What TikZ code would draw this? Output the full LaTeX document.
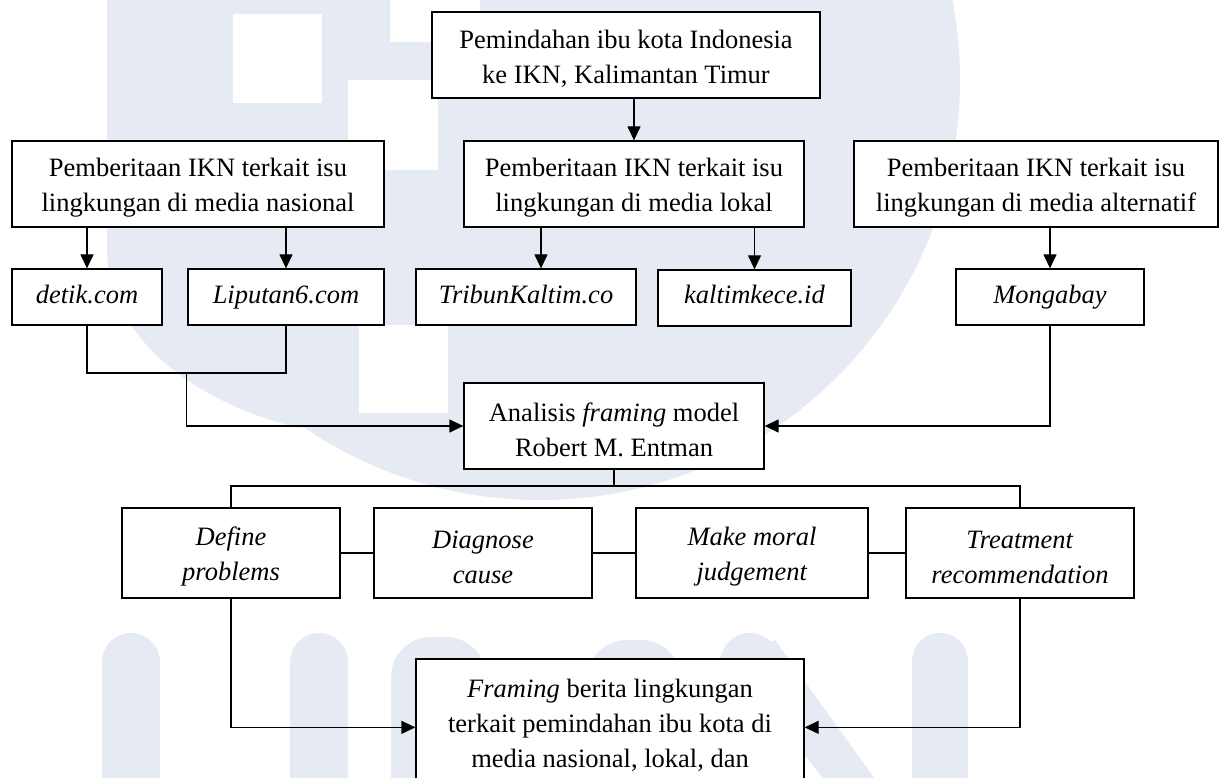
\documentclass[tikz,border=0pt]{standalone}
\usepackage{fontspec}
\setmainfont{Liberation Serif}
\usetikzlibrary{arrows.meta,calc}
\definecolor{wm}{RGB}{230,234,242}
\newcommand{\firstst}{\rule{0pt}{26pt}}
\begin{document}
\begin{tikzpicture}[x=1pt,y=-1pt,line width=1.3pt,
  box/.style={draw,fill=white,inner sep=0pt,align=center,font=\fontsize{26.5}{35}\selectfont},
  oneline/.style={text height=18pt,text depth=6pt},
  arr/.style={-{Triangle[length=14pt,width=13pt]}}]
\useasboundingbox (0,0) rectangle (1227,778);
\clip (0,0) rectangle (1227,778);
\fill[white] (0,0) rectangle (1227,778);
% watermark
\begin{scope}[wm]
\fill (540,80) circle[radius=420pt];
\fill (107,0) rectangle (540,250);
\fill (107,248) .. controls (107,340) and (200,405) .. (300,428) -- (300,248) -- cycle;
\fill[white] (233,14) rectangle (322,103);
\fill[white] (390,0) rectangle (480,42);
\fill[white] (348,80) rectangle (438,170);
\fill[white] (359,325) rectangle (448,413);
\fill[rounded corners=29pt] (102,820) -- (102,633) -- (160,633) -- (160,820);
\fill[rounded corners=29pt] (290,820) -- (290,633) -- (348,633) -- (348,820);
\fill[rounded corners=40pt] (391,820) -- (391,637) -- (486,637) -- (486,820);
\fill[rounded corners=40pt] (587,820) -- (587,640) -- (681,640) -- (681,820);
\fill[rounded corners=30pt] (720,820) -- (720,633) -- (780,633) -- (780,820);
\fill (730,660) -- (775,640) -- (890,800) -- (840,800) -- cycle;
\fill[rounded corners=28pt] (912,820) -- (912,633) -- (968,633) -- (968,820);
\end{scope}
% nodes
\node[box,minimum width=388pt,minimum height=86pt] (top) at (626,55) {\firstst Pemindahan ibu kota Indonesia\\ke IKN, Kalimantan Timur};
\node[box,minimum width=372pt,minimum height=86pt] (nas) at (198,184) {\firstst Pemberitaan IKN terkait isu\\lingkungan di media nasional};
\node[box,minimum width=340pt,minimum height=86pt] (lok) at (634,184) {\firstst Pemberitaan IKN terkait isu\\lingkungan di media lokal};
\node[box,minimum width=364pt,minimum height=86pt] (alt) at (1036,184) {\firstst Pemberitaan IKN terkait isu\\lingkungan di media alternatif};
\node[box,oneline,minimum width=150pt,minimum height=56pt] (detik) at (87,297) {\textit{detik.com}};
\node[box,oneline,minimum width=196pt,minimum height=56pt] (lip) at (286,297) {\textit{Liputan6.com}};
\node[box,oneline,minimum width=220pt,minimum height=56pt] (trib) at (526,297) {\textit{TribunKaltim.co}};
\node[box,oneline,minimum width=193pt,minimum height=56pt] (kalt) at (754.5,298) {\textit{kaltimkece.id}};
\node[box,oneline,minimum width=188pt,minimum height=56pt] (mong) at (1050,297) {\textit{Mongabay}};
\node[box,minimum width=300pt,minimum height=86pt] (anal) at (614,426) {\firstst Analisis \textit{framing} model\\Robert M. Entman};
\node[box,minimum width=218pt,minimum height=90pt] (def) at (231,553) {\firstst\textit{Define}\\\textit{problems}};
\node[box,minimum width=218pt,minimum height=90pt] (diag) at (483,553) {\firstst\textit{Diagnose}\\\textit{cause}};
\node[box,minimum width=232pt,minimum height=90pt] (make) at (752,553) {\firstst\textit{Make moral}\\\textit{judgement}};
\node[box,minimum width=228pt,minimum height=90pt] (treat) at (1020,553) {\firstst\textit{Treatment}\\\textit{recommendation}};
\node[box,minimum width=388pt,minimum height=156pt] (fin) at (610,737) {\firstst\textit{Framing} berita lingkungan\\terkait pemindahan ibu kota di\\media nasional, lokal, dan\\\mbox{}};
% connectors
\draw[arr] (top.south -| lok.north) -- (lok.north);
\draw[arr] (nas.south -| detik.north) -- (detik.north);
\draw[arr] (nas.south -| lip.north) -- (lip.north);
\coordinate (tribin) at ([xshift=15pt]trib.north);
\draw[arr] (tribin |- lok.south) -- (tribin);
\draw[arr] (lok.south -| kalt.north) -- (kalt.north);
\draw[arr] (alt.south -| mong.north) -- (mong.north);
\coordinate (hb) at (0,373);
\draw (detik.south) |- (hb -| lip.south) -- (lip.south);
\draw[arr] ($(detik.south |- hb)!0.5!(lip.south |- hb)$) |- (anal.west);
\draw[arr] (mong.south) |- (anal.east);
\coordinate (bus) at (0,486);
\draw (anal.south) -- (anal.south |- bus);
\draw (def.north) |- (anal.south |- bus) -| (treat.north);
\draw (def.east) -- (diag.west);
\draw (diag.east) -- (make.west);
\draw (make.east) -- (treat.west);
\draw[arr] (def.south) |- ([yshift=-69pt]fin.north west);
\draw[arr] (treat.south) |- ([yshift=-69pt]fin.north east);
\end{tikzpicture}
\end{document}
